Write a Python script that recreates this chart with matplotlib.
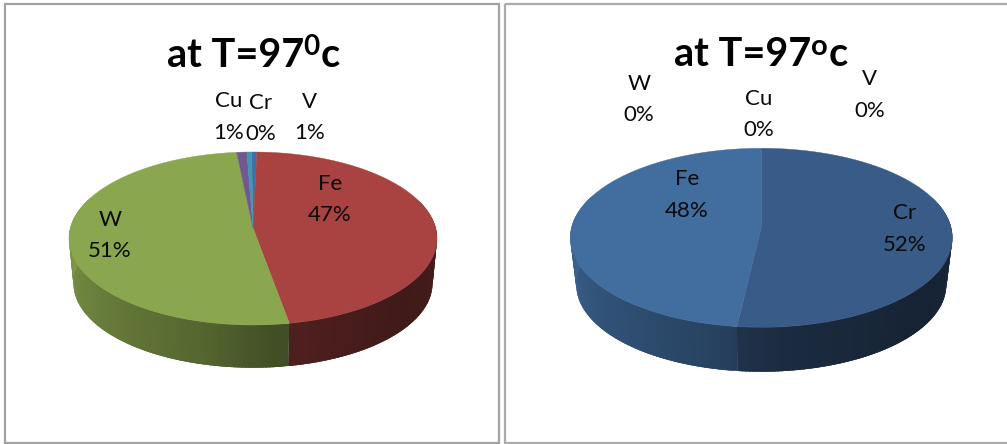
import numpy as np
import matplotlib
matplotlib.use("Agg")
import matplotlib.pyplot as plt
from matplotlib.patches import Polygon, Rectangle

plt.rcParams['font.family'] = ['Lato', 'DejaVu Sans']

# composition at each temperature, clockwise from twelve o'clock
left_names = ["V", "Fe", "W", "Cu", "Cr"]
left_values = [0.52, 46.82, 51.2, 1.0, 0.46]
left_colors = ["#3F6FA8", "#A84342", "#8AA64E", "#71588F", "#3F97B0"]

right_names = ["Cr", "Fe", "W", "Cu", "V"]
right_values = [51.8, 48.2, 0.0, 0.0, 0.0]
right_colors = ["#395B87", "#416D9F", "#8AA64E", "#71588F", "#3F97B0"]

# how much the side wall is darkened around the rim
shade_angle = [90, 130, 175, 195, 270]
shade_level = [0.42, 0.38, 0.48, 0.62, 0.90]

PERSPECTIVE = 0.121


def rim(theta, cx, cy, rx, ry):
    # circle seen in perspective, theta in degrees clockwise from the back
    t = np.radians(theta)
    a = rx * np.sqrt(1 - PERSPECTIVE ** 2)
    b = ry * (1 - PERSPECTIVE ** 2)
    w = 1 + PERSPECTIVE * np.cos(t)
    return cx + a * np.sin(t) / w, cy - ry * PERSPECTIVE - b * np.cos(t) / w


def draw_pie(ax, values, colors, start, top, bottom):
    cx, cy, rx, ry = top
    angles = start + np.cumsum([0] + values) / sum(values) * 360

    # side wall first, the top face covers whatever is behind it
    for i, color in enumerate(colors):
        if values[i] == 0:
            continue
        steps = np.arange(angles[i], angles[i + 1] + 1, 1.0)
        steps[-1] = angles[i + 1]
        base = np.array(matplotlib.colors.to_rgb(color))
        for t0, t1 in zip(steps[:-1], steps[1:]):
            mid = (t0 + t1) / 2 % 360
            if mid < 70 or mid > 290:
                continue
            level = np.interp(mid, shade_angle, shade_level)
            # each strip runs on under the next one so no seams show
            t_end = min(t1 + 1.5, angles[i + 1])
            ts = np.linspace(t0, t_end, 6)
            xt, yt = rim(ts, *top)
            xb, yb = rim(ts[::-1], *bottom)
            ax.add_patch(Polygon(np.column_stack([np.r_[xt, xb], np.r_[yt, yb]]),
                                 facecolor=base * level, edgecolor='none', lw=0))

    apex = (cx, cy - ry * PERSPECTIVE)
    for i, color in enumerate(colors):
        if values[i] == 0:
            continue
        steps = np.linspace(angles[i], angles[i + 1], 200)
        xs, ys = rim(steps, *top)
        ax.add_patch(Polygon([apex] + list(zip(xs, ys)), facecolor=color, edgecolor=color, lw=0.3))


def label(ax, x, y, name, value):
    ax.text(x, y + 2, f"{name}\n{value:.0f}%", ha='center', va='center',
            fontsize=16, linespacing=1.7, color="#0A0A0A")


fig = plt.figure(figsize=(10.07, 4.44), dpi=100)
ax = fig.add_axes([0, 0, 1, 1])
ax.set_xlim(0, 1007)
ax.set_ylim(444, 0)
ax.axis('off')

# chart frames
ax.add_patch(Rectangle((5, 4), 494, 439, fill=False, edgecolor="#A3A3A3", lw=1.6))
ax.add_patch(Rectangle((505, 4), 520, 439, fill=False, edgecolor="#ABABAB", lw=1.6))

draw_pie(ax, left_values, left_colors, -0.5, (253, 238.5, 184, 86.5), (253, 283.4, 179.5, 84.3))
draw_pie(ax, right_values, right_colors, 0, (761.3, 237.8, 191, 89.5), (761.3, 284.9, 185, 86.8))

# chart titles, the exponent is set as its own smaller text
title_style = dict(fontsize=28.5, fontweight='bold', color="black", va='baseline', ha='left')
ax.text(167, 67, "at T=97", **title_style)
ax.text(303.5, 55, "0", fontsize=20, fontweight='bold', color="black", va='baseline', ha='left')
ax.text(321, 67, "c", **title_style)

ax.text(674, 65.5, "at T=97", **title_style)
ax.text(810.5, 55, "o", fontsize=21, fontweight='bold', color="black", va='baseline', ha='left')
ax.text(829, 65.5, "c", **title_style)

left_pos = [(310, 115.5), (330, 197.5), (110, 233.5), (229, 115), (261, 116.5)]
for (x, y), name, value in zip(left_pos, left_names, left_values):
    label(ax, x, y, name, value)

right_pos = [(905, 227), (686.7, 193), (639, 97.5), (759, 112.5), (870, 93)]
for (x, y), name, value in zip(right_pos, right_names, right_values):
    label(ax, x, y, name, value)

fig.savefig("out.png", dpi=100)
